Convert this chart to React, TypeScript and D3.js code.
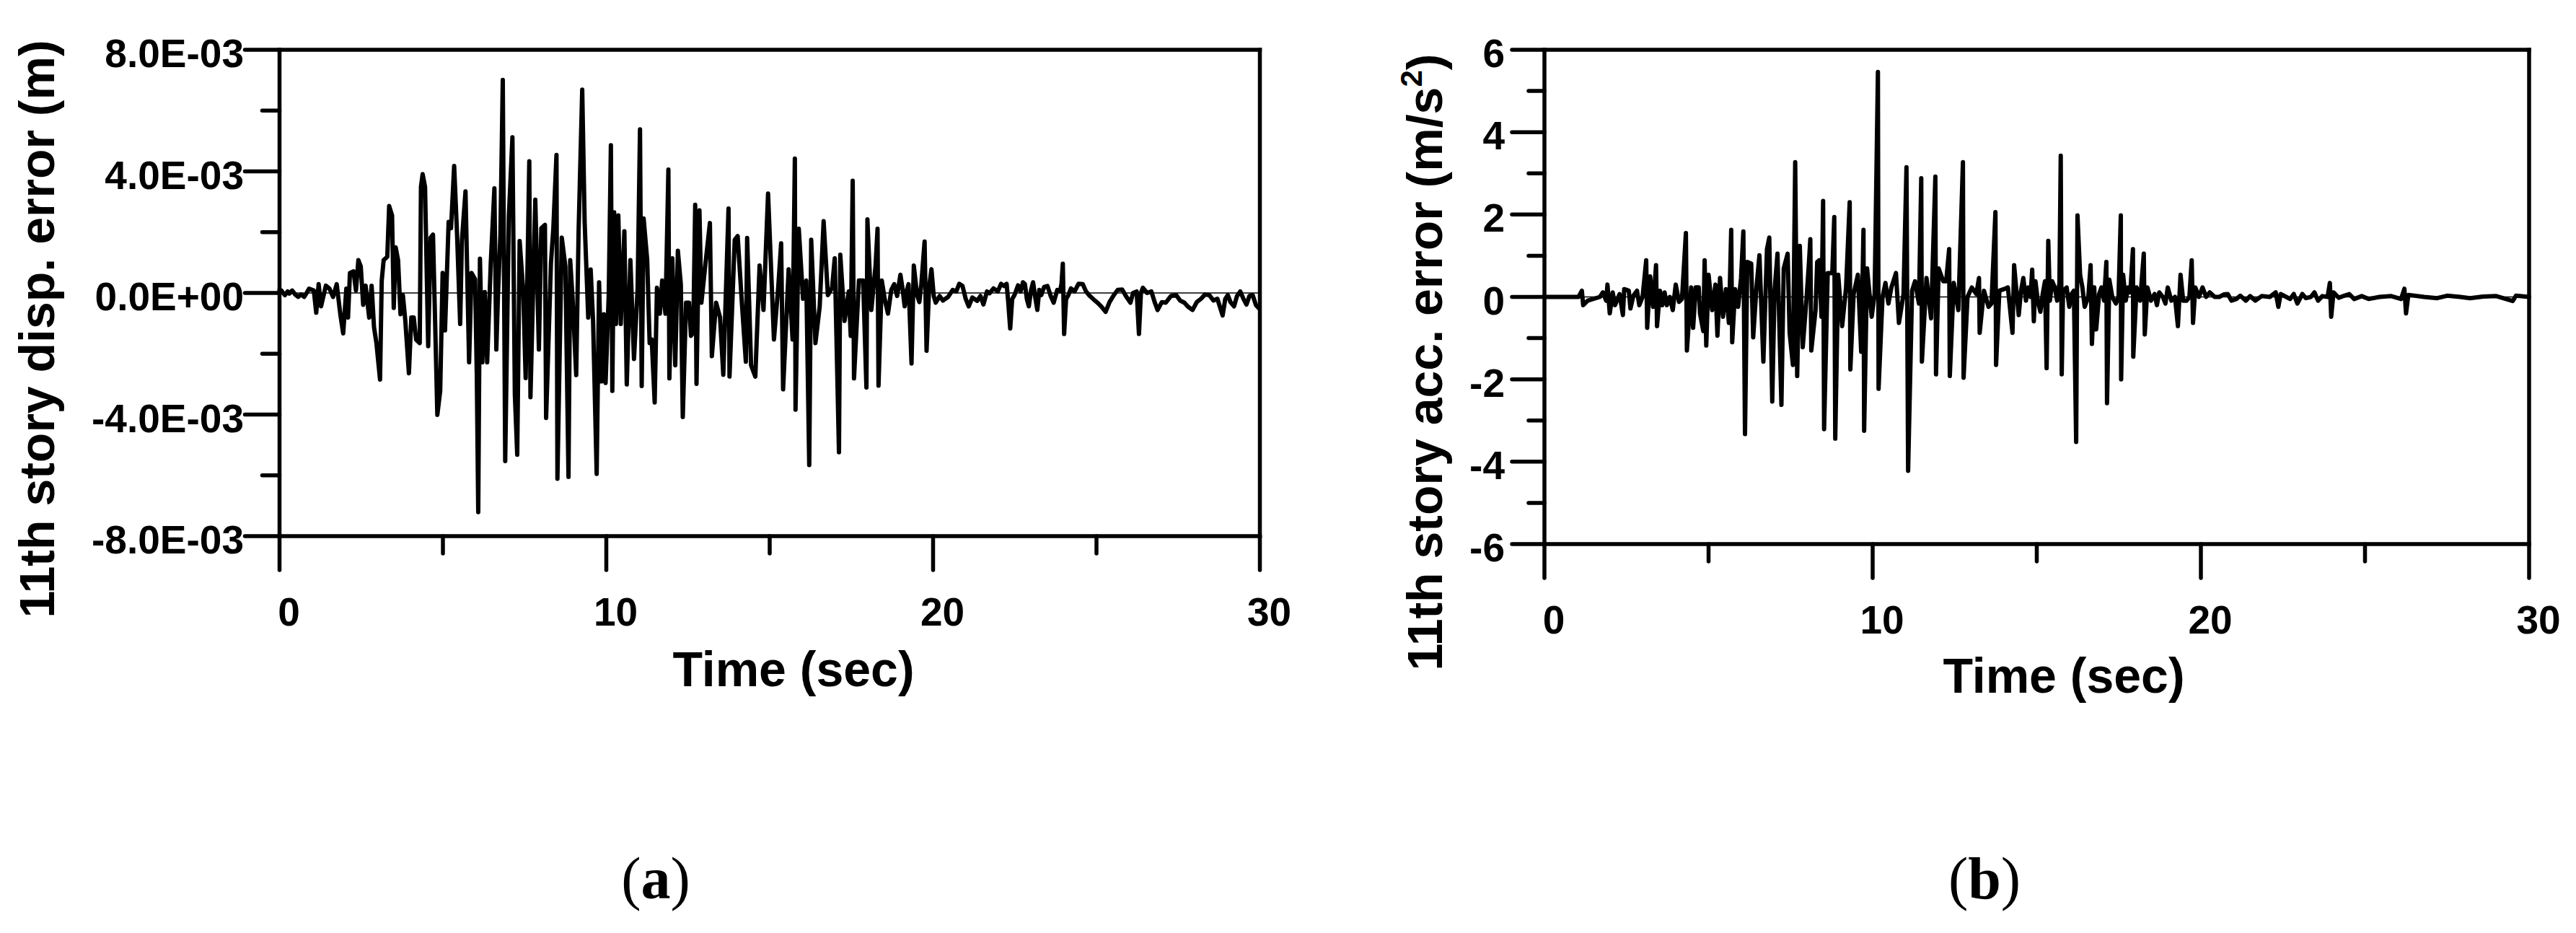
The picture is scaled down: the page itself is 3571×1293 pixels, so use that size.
import React from "react";
import * as d3 from "d3";

// ---------- axis ticks / labels ----------
const timeTicksMajor = [0, 10, 20, 30];
const timeTicksMinor = [5, 15, 25];
const timeTickLabels = ["0", "10", "20", "30"];

// displacement error, values in units of 1e-3 m
const dispTicksMajor = [-8, -4, 0, 4, 8];
const dispTicksMinor = [-6, -2, 2, 6];
const dispTickLabels = ["-8.0E-03", "-4.0E-03", "0.0E+00", "4.0E-03", "8.0E-03"];

// acceleration error, m/s^2
const accTicksMajor = [-6, -4, -2, 0, 2, 4, 6];
const accTicksMinor = [-5, -3, -1, 1, 3, 5];
const accTickLabels = ["-6", "-4", "-2", "0", "2", "4", "6"];

// ---------- series: [time (s), value] ----------
// (a) 11th story displacement error, ×1e-3 m
const dispError: [number, number][] = [
  [0, 0.1], [0.055, 0.08], [0.11, 0.0], [0.166, -0.07], [0.25, 0.05], [0.3, -0.02], [0.387, 0.08], [0.48, -0.05],
  [0.571, -0.13], [0.66, -0.05], [0.755, -0.13], [0.83, 0.0], [0.902, 0.14],
  [1.05, 0.08], [1.123, -0.65], [1.197, 0.29], [1.271, -0.44], [1.418, 0.24], [1.529, 0.14], [1.639, -0.13],
  [1.75, 0.29], [1.86, -0.7], [1.948, -1.33], [2.044, 0.14], [2.096, -0.81], [2.155, 0.66], [2.265, 0.71],
  [2.339, 0.08], [2.413, 1.08], [2.486, 0.87], [2.56, -0.39], [2.634, 0.24], [2.744, -0.81], [2.818, 0.24],
  [2.891, -1.12], [2.965, -1.65], [3.076, -2.85], [3.127, 0.4], [3.186, 1.08], [3.297, 1.19], [3.355, 2.86],
  [3.444, 2.55], [3.495, -0.49], [3.554, 1.5], [3.628, 1.08], [3.702, -0.7], [3.775, -0.07], [3.849, -0.91],
  [3.959, -2.64], [4.033, -0.81], [4.107, -0.81], [4.181, -1.54], [4.291, -1.65], [4.328, 3.49], [4.379, 3.91],
  [4.453, 3.49], [4.549, -1.75], [4.623, 1.82], [4.696, 1.92], [4.77, -1.33], [4.829, -4.01], [4.917, -3.22],
  [4.991, 0.66], [5.064, -1.23], [5.175, 2.34], [5.249, 2.13], [5.344, 4.18], [5.433, 1.92], [5.528, -1.02],
  [5.58, 1.71], [5.691, 3.34], [5.801, -2.28], [5.875, 0.66], [5.985, 0.45], [6.037, -2.7], [6.081, -7.21],
  [6.133, 1.13], [6.206, -2.28], [6.28, 0.03], [6.354, -2.28], [6.464, 0.98], [6.575, 3.44], [6.634, -1.86],
  [6.685, -0.07], [6.759, 1.92], [6.832, 7.01], [6.906, -5.53], [7.017, 2.5], [7.127, 5.12], [7.201, -3.33],
  [7.274, -5.32], [7.348, 1.71], [7.459, 0.03], [7.532, -2.8], [7.643, 4.33], [7.679, -3.43], [7.827, 3.07],
  [7.937, -1.86], [8.011, 2.13], [8.122, 2.24], [8.158, -4.11], [8.306, 0.98], [8.379, 2.13], [8.475, 4.54],
  [8.504, -6.11], [8.637, 1.82], [8.748, 0.87], [8.843, -6.05], [8.895, 1.08], [8.968, -0.18], [9.079, -2.7],
  [9.152, 2.03], [9.263, 6.69], [9.337, 2.34], [9.447, -0.81], [9.521, 0.77], [9.595, -0.91], [9.705, -5.95],
  [9.779, 0.35], [9.853, -2.91], [9.926, -0.7], [9.978, -2.96], [10.074, -0.07], [10.14, 4.86], [10.184, -3.22],
  [10.24, 2.65], [10.295, -1.02], [10.368, 2.55], [10.442, -1.02], [10.553, 2.03], [10.626, -3.01], [10.737, 1.08],
  [10.847, -2.17], [10.958, 0.14], [11.031, 5.38], [11.083, -3.06], [11.142, 2.45], [11.252, 1.08], [11.326, -1.65],
  [11.39, -1.53], [11.48, -3.6], [11.55, 0.17], [11.64, -0.68], [11.71, 0.41], [11.81, -0.68], [11.9, 4.06],
  [11.93, -2.81], [12.02, 1.14], [12.11, -2.38], [12.19, 1.39], [12.28, 0.29], [12.34, -4.08], [12.44, -0.32],
  [12.53, -0.32], [12.59, -1.41], [12.66, -1.29], [12.72, 2.9], [12.76, -2.99], [12.85, 2.72], [12.91, -0.32],
  [13.04, 1.02], [13.17, 2.3], [13.23, -2.08], [13.36, -0.32], [13.48, -0.8], [13.58, -2.69], [13.74, 2.78],
  [13.77, -2.75], [13.93, 1.75], [14.02, 1.87], [14.14, -0.19], [14.27, -2.26], [14.31, 1.81], [14.43, -2.38],
  [14.56, -2.75], [14.69, 0.9], [14.81, -0.56], [14.95, 3.27], [15.13, -1.53], [15.26, 0.17], [15.35, 1.63],
  [15.41, -3.17], [15.58, 0.78], [15.7, -1.53], [15.77, 4.42], [15.79, -3.84], [15.89, 2.11], [16.02, -0.19],
  [16.12, 0.41], [16.21, -5.66], [16.27, 1.75], [16.4, -1.65], [16.53, -0.44], [16.65, 2.36], [16.78, -0.07],
  [16.91, 0.17], [16.99, 1.14], [17.12, -5.24], [17.16, 1.26], [17.29, -0.92], [17.42, 0.05], [17.48, -1.41],
  [17.54, 3.69], [17.58, -2.81], [17.73, 0.41], [17.86, 0.41], [17.96, -3.11], [17.99, 2.42], [18.11, -0.56],
  [18.24, 0.9], [18.3, 2.11], [18.33, -3.05], [18.43, 0.41], [18.52, -0.2], [18.62, -0.68], [18.72, 0.1],
  [18.81, 0.29], [18.9, -0.1], [19.0, 0.6], [19.07, 0.1], [19.13, -0.44], [19.2, 0.1], [19.25, 0.29],
  [19.34, -2.32], [19.41, 0.9], [19.51, -0.07], [19.58, -0.3], [19.64, 0.29], [19.74, 1.69],
  [19.8, -1.9], [19.88, 0.2], [19.95, 0.78], [20.02, -0.1], [20.08, -0.32], [20.2, -0.1], [20.3, -0.25],
  [20.46, -0.13], [20.6, 0.1], [20.71, 0.05], [20.8, 0.3], [20.9, 0.23], [21.0, -0.2], [21.09, -0.44],
  [21.2, -0.15], [21.35, -0.26], [21.45, -0.1], [21.54, -0.38], [21.65, 0.05], [21.73, -0.01], [21.85, 0.15],
  [21.98, 0.05], [22.08, 0.3], [22.17, 0.23], [22.25, 0.3], [22.3, -0.3], [22.36, -1.17], [22.42, -0.2],
  [22.49, -0.07], [22.6, 0.25], [22.68, 0.05], [22.75, 0.35], [22.81, 0.29], [22.87, -0.2], [22.93, -0.44],
  [23.0, 0.1], [23.06, 0.35], [23.12, -0.1], [23.19, -0.56], [23.25, 0.1], [23.31, -0.07], [23.4, 0.2],
  [23.5, 0.23], [23.6, -0.1], [23.69, -0.32], [23.8, 0.1], [23.88, 0.05], [23.93, 0.3], [23.97, 0.96],
  [24.01, -1.35], [24.07, -0.2], [24.14, -0.07], [24.22, 0.15], [24.33, 0.05], [24.45, 0.3], [24.58, 0.29],
  [24.68, 0.05], [24.77, -0.07], [24.9, -0.2], [25.03, -0.32], [25.15, -0.45], [25.28, -0.62], [25.4, -0.3],
  [25.53, -0.07], [25.65, 0.1], [25.79, 0.11], [25.9, -0.1], [26.04, -0.32], [26.12, 0.0], [26.23, 0.05],
  [26.3, -1.35], [26.36, 0.0], [26.42, 0.17], [26.55, 0.0], [26.68, 0.05], [26.78, -0.3], [26.87, -0.56],
  [27.0, -0.3], [27.12, -0.32], [27.28, -0.1], [27.44, -0.07], [27.56, -0.25], [27.69, -0.32], [27.8, -0.45],
  [27.94, -0.56], [28.07, -0.3], [28.2, -0.19], [28.32, -0.05], [28.45, -0.07], [28.58, -0.25], [28.7, -0.19],
  [28.86, -0.74], [28.94, -0.2], [29.02, -0.07], [29.1, -0.3], [29.21, -0.44], [29.3, -0.1], [29.4, 0.05],
  [29.5, -0.2], [29.59, -0.38], [29.68, -0.1], [29.78, -0.07], [29.88, -0.4], [29.97, -0.5],
];

// (b) 11th story acceleration error, m/s^2
const accError: [number, number][] = [
  [0, 0], [1.04, 0], [1.14, 0.15], [1.18, -0.2], [1.32, -0.09], [1.69, 0], [1.78, 0.11], [1.88, -0.09],
  [1.92, 0.3], [1.99, -0.4], [2.08, 0.11], [2.15, -0.2], [2.29, 0.07], [2.39, -0.44], [2.43, 0.19], [2.57, 0.15],
  [2.62, -0.28], [2.71, 0.03], [2.82, 0.15], [2.89, -0.2], [2.99, 0], [3.1, 0.89], [3.13, -0.75], [3.22, 0.5],
  [3.31, -0.24], [3.4, 0.77], [3.43, -0.71], [3.52, 0.15], [3.59, -0.2], [3.66, 0.11], [3.73, -0.2], [3.82, 0],
  [3.91, -0.32], [4.0, 0.3], [4.1, -0.12], [4.19, -0.05], [4.31, 1.55], [4.34, -1.3], [4.47, 0.23], [4.53, -0.75],
  [4.61, 0.23], [4.7, 0.23], [4.74, -0.4], [4.84, -0.83], [4.88, 0.89], [4.93, -1.18], [5.0, 0.54], [5.11, -0.32],
  [5.21, 0.3], [5.27, -0.94], [5.35, 0.46], [5.44, -0.48], [5.53, 0.19], [5.62, -0.63], [5.69, 1.63], [5.72, -1.1],
  [5.81, 0.19], [5.9, -0.24], [5.99, 0.46], [6.06, 1.59], [6.11, -3.33], [6.18, 0.85], [6.3, 0.81], [6.36, -0.98],
  [6.46, 0.23], [6.55, 1.01], [6.67, -1.57], [6.78, 1.16], [6.85, 1.44], [6.94, -2.54], [7.01, 0.15], [7.1, 1.05],
  [7.22, -2.62], [7.29, 0.69], [7.41, 1.05], [7.47, -0.87], [7.57, -1.65], [7.64, 3.27], [7.7, -1.92], [7.78, 1.24],
  [7.87, -1.22], [7.98, -0.09], [8.06, 0.85], [8.1, 1.4], [8.13, -1.3], [8.26, -0.32], [8.31, 0.85], [8.37, 0.89],
  [8.44, -0.48], [8.49, 2.33], [8.52, -3.21], [8.63, 0.58], [8.77, 0.58], [8.83, 1.94], [8.86, -3.44], [8.95, 0.54],
  [9.07, -0.71], [9.19, 0.23], [9.3, 2.3], [9.32, -1.76], [9.42, 0.07], [9.55, 0.54], [9.65, -1.33], [9.72, 1.63],
  [9.74, -3.25], [9.83, 0.69], [9.97, -0.48], [10.06, 0.07], [10.16, 5.46], [10.18, -2.23], [10.3, 0], [10.39, 0.34],
  [10.48, -0.16], [10.57, 0.23], [10.71, 0.58], [10.8, -0.63], [10.94, 0.07], [11.03, 3.15], [11.08, -4.22],
  [11.2, 0.15], [11.29, 0.38], [11.41, -0.16], [11.48, 2.88], [11.5, -1.57], [11.64, 0.46], [11.78, -0.52],
  [11.91, 2.92], [11.93, -1.88], [12.01, 0.69], [12.15, 0.38], [12.24, 0.38], [12.33, 1.16], [12.35, -1.92],
  [12.47, 0.34], [12.61, -0.32], [12.75, 3.27], [12.77, -1.96], [12.89, 0], [13.02, 0.23], [13.16, 0.07],
  [13.24, 0.46], [13.26, -0.87], [13.39, 0.15], [13.53, -0.24], [13.62, -0.16], [13.74, 2.06], [13.76, -1.65],
  [13.86, 0.15], [14.0, 0.19], [14.12, 0.23], [14.2, -0.4], [14.26, -0.87], [14.31, 0.77], [14.37, 0.23],
  [14.45, -0.44], [14.52, 0.15], [14.59, 0.46], [14.67, -0.09], [14.74, 0.23], [14.81, 0], [14.86, 0.66],
  [14.91, -0.59], [14.96, 0.38], [15.03, -0.09], [15.11, -0.36], [15.18, 0.07], [15.25, 0.38], [15.3, -1.73],
  [15.35, 1.36], [15.4, -0.09], [15.47, 0.38], [15.55, 0.23], [15.62, -0.09], [15.69, 0.34], [15.73, 3.43],
  [15.76, -1.88], [15.8, 0.15], [15.91, 0.23], [15.99, -0.24], [16.06, 0.07], [16.13, 0.15], [16.2, -3.52],
  [16.24, 1.98], [16.32, 0.54], [16.39, 0.23], [16.46, -0.24], [16.57, 0], [16.64, 0.77], [16.68, -1.14],
  [16.75, 0.23], [16.81, -0.79], [16.9, 0.07], [16.97, 0.23], [17.05, -0.09], [17.12, 0.85], [17.14, -2.58],
  [17.21, 0.42], [17.3, 0], [17.41, -0.16], [17.49, 0], [17.56, 1.98], [17.57, -2.0], [17.63, 0.54], [17.71, -0.09],
  [17.78, 0.23], [17.85, 0.11], [17.93, 1.16], [17.94, -1.45], [18.04, 0.23], [18.15, -0.09], [18.26, 1.05],
  [18.29, -0.91], [18.37, 0.23], [18.48, -0.09], [18.59, 0.07], [18.66, -0.2], [18.73, 0.11], [18.84, 0],
  [18.92, -0.16], [18.99, 0.23], [19.1, -0.09], [19.21, 0], [19.3, -0.71], [19.38, 0.54], [19.46, -0.09],
  [19.57, -0.09], [19.65, 0], [19.72, 0.89], [19.76, -0.63], [19.83, 0.23], [19.94, 0], [20.05, 0.23], [20.16, 0],
  [20.27, 0.11], [20.42, 0], [20.56, 0], [20.7, 0.06], [20.82, 0.07], [20.93, -0.09], [21.08, -0.05], [21.2, 0.03],
  [21.37, -0.09], [21.5, 0.02], [21.66, -0.09], [21.85, 0.02], [22.1, 0], [22.28, 0.11], [22.36, -0.24],
  [22.43, 0.07], [22.6, 0.0], [22.72, -0.05], [22.83, 0.07], [22.94, -0.16], [23.09, 0.07], [23.2, -0.03],
  [23.35, 0], [23.46, 0.11], [23.57, -0.09], [23.7, 0.02], [23.86, 0], [23.93, 0.34], [23.97, -0.48],
  [24.04, 0.11], [24.2, -0.02], [24.37, 0.03], [24.52, 0.07], [24.67, -0.05], [24.9, 0.02], [25.11, -0.05],
  [25.44, 0], [25.8, 0.02], [26.1, -0.05], [26.2, 0.2], [26.25, -0.4], [26.32, 0.05], [26.8, 0], [27.2, -0.03],
  [27.5, 0.03], [27.9, 0.0], [28.2, -0.03], [28.6, 0.01], [29.0, 0.02], [29.5, -0.1], [29.6, 0.03], [30, 0],
];

type PanelProps = {
  x0: number; x1: number; y0: number; y1: number;
  yDomain: [number, number];
  yMajor: number[]; yMinor: number[]; yLabels: string[];
  yMajorLen: number; yMinorLen: number; yLabelX: number;
  data: [number, number][];
  yTitle: React.ReactNode; yTitleX: number; yTitleY: number;
  xTitleX: number; xTitleY: number;
  caption: React.ReactNode; captionX: number;
};

const FONT = "'Liberation Sans', Arial, Helvetica, sans-serif";
const AXIS_W = 5.5;

function Panel(p: PanelProps) {
  const x = d3.scaleLinear().domain([0, 30]).range([p.x0, p.x1]);
  const y = d3.scaleLinear().domain(p.yDomain).range([p.y1, p.y0]);
  const line = d3.line<[number, number]>().x((d) => x(d[0])).y((d) => y(d[1]));
  const xMajorLen = 47;
  const xMinorLen = 24;
  return (
    <g>
      {/* zero reference line */}
      <line x1={p.x0} x2={p.x1} y1={y(0)} y2={y(0)} stroke="#000" strokeWidth={1.5} />
      {/* data */}
      <path d={line(p.data) || ""} fill="none" stroke="#000" strokeWidth={6} strokeLinejoin="round" strokeLinecap="round" />
      {/* frame */}
      <g stroke="#000" strokeWidth={AXIS_W} strokeLinecap="square">
        <line x1={p.x0} x2={p.x1} y1={p.y0} y2={p.y0} />
        <line x1={p.x0} x2={p.x1} y1={p.y1} y2={p.y1} />
        <line x1={p.x0} x2={p.x0} y1={p.y0} y2={p.y1} />
        <line x1={p.x1} x2={p.x1} y1={p.y0} y2={p.y1} />
      </g>
      {/* ticks */}
      <g stroke="#000" strokeWidth={AXIS_W} strokeLinecap="round">
        {p.yMajor.map((v) => (
          <line key={"ym" + v} x1={p.x0 - p.yMajorLen} x2={p.x0} y1={y(v)} y2={y(v)} />
        ))}
        {p.yMinor.map((v) => (
          <line key={"yn" + v} x1={p.x0 - p.yMinorLen} x2={p.x0} y1={y(v)} y2={y(v)} />
        ))}
        {timeTicksMajor.map((t) => (
          <line key={"xm" + t} x1={x(t)} x2={x(t)} y1={p.y1} y2={p.y1 + xMajorLen} />
        ))}
        {timeTicksMinor.map((t) => (
          <line key={"xn" + t} x1={x(t)} x2={x(t)} y1={p.y1} y2={p.y1 + xMinorLen} />
        ))}
      </g>
      {/* tick labels */}
      <g fontFamily={FONT} fontWeight="bold" fontSize={55} fill="#000">
        {p.yMajor.map((v, i) => (
          <text key={"yl" + v} x={p.yLabelX} y={y(v) + 24} textAnchor="end">{p.yLabels[i]}</text>
        ))}
        {timeTicksMajor.map((t, i) => (
          <text key={"xl" + t} x={x(t) + 13} y={p.y1 + 124} textAnchor="middle">{timeTickLabels[i]}</text>
        ))}
      </g>
      {/* axis titles */}
      <text x={p.xTitleX} y={p.xTitleY} textAnchor="middle" fontFamily={FONT} fontWeight="bold" fontSize={68}>Time (sec)</text>
      <text transform={`translate(${p.yTitleX},${p.yTitleY}) rotate(-90)`} textAnchor="middle" fontFamily={FONT} fontWeight="bold" fontSize={68}>
        {p.yTitle}
      </text>
      {/* caption */}
      <text x={p.captionX} y={1245} textAnchor="middle" fontFamily="'Liberation Serif', 'Times New Roman', serif" fontSize={82}>
        {p.caption}
      </text>
    </g>
  );
}

export default function App() {
  return (
    <svg width={3571} height={1293} viewBox="0 0 3571 1293" style={{ position: "absolute", left: 0, top: 0, background: "#fff" }}>
      <rect x={0} y={0} width={3571} height={1293} fill="#fff" />
      <Panel
        x0={387.5} x1={1746.5} y0={69} y1={743}
        yDomain={[-8, 8]} yMajor={dispTicksMajor} yMinor={dispTicksMinor} yLabels={dispTickLabels}
        yMajorLen={48} yMinorLen={24} yLabelX={338}
        data={dispError}
        yTitle={"11th story disp. error (m)"} yTitleX={75} yTitleY={456}
        xTitleX={1100} xTitleY={951}
        caption={<>(<tspan fontWeight="bold">a</tspan>)</>} captionX={909}
      />
      <Panel
        x0={2141} x1={3506} y0={69} y1={754}
        yDomain={[-6, 6]} yMajor={accTicksMajor} yMinor={accTicksMinor} yLabels={accTickLabels}
        yMajorLen={45} yMinorLen={22} yLabelX={2086}
        data={accError}
        yTitle={<>11th story acc. error (m/s<tspan fontSize={42} dy={-28}>2</tspan><tspan dy={28}>)</tspan></>}
        yTitleX={1999} yTitleY={502}
        xTitleX={2861} xTitleY={960}
        caption={<>(<tspan fontWeight="bold">b</tspan>)</>} captionX={2751}
      />
    </svg>
  );
}
